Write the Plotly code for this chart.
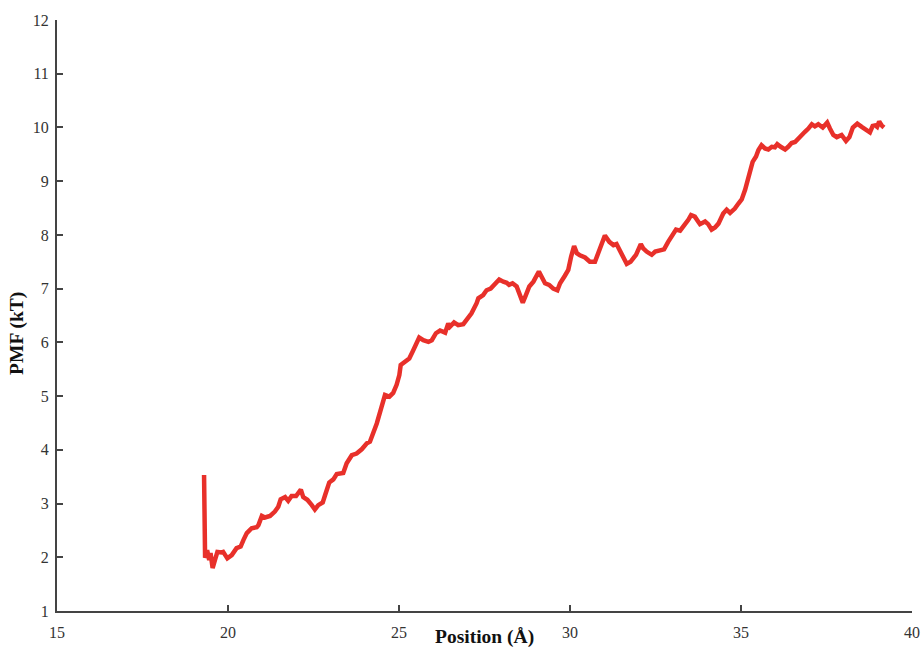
import plotly.graph_objects as go

position = [19.30, 19.31, 19.33, 19.39, 19.45, 19.49, 19.55, 19.62, 19.69, 19.82, 19.86, 19.98,
            20.11, 20.25, 20.37, 20.45, 20.55, 20.69, 20.84, 20.89, 20.99, 21.08, 21.23, 21.37,
            21.47, 21.54, 21.67, 21.76, 21.86, 21.99, 22.06, 22.13, 22.20, 22.32, 22.45, 22.54,
            22.64, 22.77, 22.84, 22.90, 22.96, 23.08, 23.18, 23.37, 23.47, 23.62, 23.76, 23.91,
            24.06, 24.15, 24.25, 24.35, 24.49, 24.59, 24.72, 24.83, 24.93, 25.01, 25.05, 25.18,
            25.30, 25.40, 25.50, 25.59, 25.71, 25.86, 25.96, 26.08, 26.20, 26.35, 26.44, 26.49,
            26.61, 26.73, 26.88, 26.98, 27.12, 27.27, 27.32, 27.46, 27.56, 27.68, 27.81, 27.93,
            28.05, 28.15, 28.22, 28.32, 28.44, 28.54, 28.62, 28.71, 28.81, 28.93, 29.03, 29.09,
            29.17, 29.27, 29.39, 29.51, 29.63, 29.71, 29.85, 29.95, 30.03, 30.12, 30.20, 30.29,
            30.44, 30.58, 30.73, 30.83, 30.93, 31.02, 31.15, 31.27, 31.36, 31.46, 31.58, 31.66,
            31.77, 31.93, 32.07, 32.14, 32.24, 32.39, 32.49, 32.63, 32.75, 32.87, 32.97, 33.10,
            33.22, 33.36, 33.46, 33.54, 33.65, 33.80, 33.95, 34.04, 34.14, 34.24, 34.34, 34.48,
            34.58, 34.68, 34.82, 34.92, 35.02, 35.12, 35.21, 35.27, 35.34, 35.44, 35.51, 35.60,
            35.70, 35.80, 35.90, 35.99, 36.06, 36.16, 36.29, 36.38, 36.48, 36.58, 36.68, 36.77,
            36.87, 36.97, 37.07, 37.16, 37.26, 37.39, 37.52, 37.60, 37.70, 37.80, 37.94, 38.07,
            38.17, 38.27, 38.40, 38.53, 38.68, 38.77, 38.85, 38.92, 38.98, 39.04, 39.11, 39.18]

pmf = [3.53, 2.40, 1.99, 2.13, 1.95, 2.08, 1.80, 1.95, 2.10, 2.09, 2.10, 1.98,
       2.04, 2.17, 2.20, 2.32, 2.45, 2.54, 2.56, 2.60, 2.77, 2.74, 2.77, 2.85,
       2.94, 3.08, 3.12, 3.05, 3.14, 3.14, 3.19, 3.26, 3.12, 3.07, 2.97, 2.89,
       2.97, 3.02, 3.16, 3.31, 3.39, 3.45, 3.55, 3.57, 3.75, 3.90, 3.93, 4.01,
       4.12, 4.15, 4.31, 4.49, 4.80, 5.02, 4.99, 5.06, 5.21, 5.39, 5.58, 5.64,
       5.70, 5.83, 5.98, 6.09, 6.04, 6.01, 6.04, 6.17, 6.22, 6.18, 6.35, 6.29,
       6.37, 6.32, 6.34, 6.42, 6.54, 6.73, 6.82, 6.88, 6.97, 7.00, 7.10, 7.17,
       7.13, 7.11, 7.07, 7.10, 7.04, 6.88, 6.74, 6.88, 7.04, 7.13, 7.25, 7.32,
       7.22, 7.10, 7.07, 7.00, 6.97, 7.10, 7.24, 7.35, 7.59, 7.79, 7.66, 7.62,
       7.58, 7.50, 7.50, 7.66, 7.87, 7.99, 7.87, 7.81, 7.83, 7.69, 7.53, 7.46,
       7.50, 7.63, 7.83, 7.75, 7.69, 7.63, 7.69, 7.72, 7.73, 7.87, 7.97, 8.10,
       8.08, 8.18, 8.28, 8.37, 8.34, 8.20, 8.25, 8.20, 8.10, 8.14, 8.21, 8.40,
       8.47, 8.41, 8.49, 8.58, 8.66, 8.84, 9.08, 9.21, 9.36, 9.46, 9.58, 9.67,
       9.61, 9.59, 9.64, 9.63, 9.69, 9.64, 9.59, 9.64, 9.71, 9.73, 9.80, 9.88,
       9.92, 9.98, 10.06, 10.02, 10.06, 10.00, 10.09, 9.98, 9.86, 9.82, 9.86, 9.75,
       9.82, 10.00, 10.07, 10.01, 9.96, 9.91, 10.03, 10.04, 10.01, 10.11, 10.04, 10.00]

x_ticks = [15, 20, 25, 30, 35, 40]
y_ticks = [1, 2, 3, 4, 5, 6, 7, 8, 9, 10, 11, 12]

font_family = "Liberation Serif, Times New Roman, serif"

fig = go.Figure()
fig.add_trace(go.Scatter(x=position, y=pmf, mode="lines",
                         line=dict(color="#e8302a", width=4.5),
                         showlegend=False, hoverinfo="skip", cliponaxis=False))

axis_common = dict(showgrid=False, zeroline=False, showline=True, automargin=False,
                   linecolor="#444444", linewidth=2,
                   ticks="inside", ticklen=6, tickwidth=1.5, tickcolor="#444444",
                   tickfont=dict(family=font_family, size=16, color="#333333"))

fig.update_layout(
    width=924, height=649,
    margin=dict(l=57, r=12, t=20, b=38, autoexpand=False),
    paper_bgcolor="white", plot_bgcolor="white",
    xaxis=dict(range=[15, 40], tickvals=x_ticks, ticklabelstandoff=6, **axis_common),
    yaxis=dict(range=[1, 12], tickvals=y_ticks, ticklabelstandoff=3, **axis_common),
    annotations=[
        dict(text="<b>Position (Å)</b>", xref="paper", yref="paper",
             x=0.5, y=-0.044, xanchor="center", yanchor="middle", showarrow=False,
             font=dict(family=font_family, size=19.5, color="#111111")),
        dict(text="<b>PMF (kT)</b>", xref="paper", yref="paper",
             x=-0.046, y=0.47, xanchor="center", yanchor="middle", showarrow=False,
             textangle=-90,
             font=dict(family=font_family, size=19.5, color="#111111")),
    ],
)

fig.write_html("out.html")
